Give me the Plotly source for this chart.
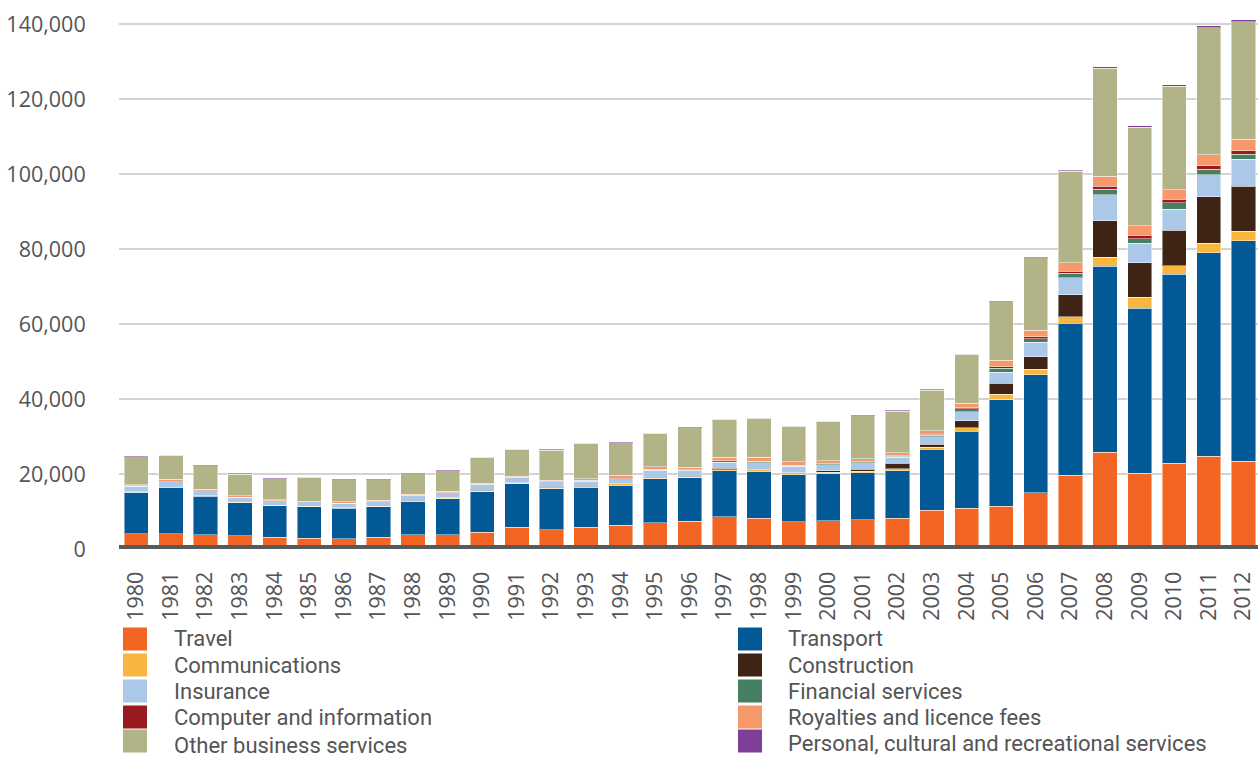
import plotly.graph_objects as go

# Services exports by category, 1980-2012
years = [str(y) for y in range(1980, 2013)]

travel = [4100, 4100, 3750, 3550, 3100, 2850, 2750, 3200, 3750, 3800, 4450,
          5850, 5150, 5800, 6400, 6950, 7450, 8550, 8250, 7300, 7550,
          7750, 8200, 10400, 10850, 11450, 15000, 19700, 25800, 20250, 22900,
          24750, 23350]
transport = [11000, 12250, 10300, 8800, 8450, 8450, 8100, 8100, 8950, 9600, 10850,
             11550, 10950, 10550, 10500, 11800, 11550, 12350, 12350, 12550, 12550,
             12600, 12700, 16200, 20600, 28300, 31450, 40550, 49600, 43900, 50350,
             54300, 58800]
communications = [100, 50, 100, 100, 100, 50, 100, 100, 100, 100, 150,
                  200, 150, 200, 450, 150, 200, 300, 550, 450, 350,
                  350, 550, 500, 900, 1500, 1450, 1700, 2400, 3000, 2350,
                  2550, 2650]
construction = [100, 0, 100, 0, 0, 0, 50, 0, 250, 200, 200,
                50, 250, 250, 0, 250, 250, 400, 0, 0, 450,
                600, 1400, 900, 1800, 2950, 3350, 5800, 9750, 9200, 9400,
                12350, 11900]
insurance = [1450, 1550, 1300, 1350, 1200, 1200, 1200, 1200, 1200, 1300, 1550,
             1350, 1500, 1250, 1400, 1850, 1550, 1600, 1850, 1750, 1600,
             1700, 1600, 1950, 2500, 3000, 3900, 4600, 6950, 5150, 5600,
             5900, 7300]
financial = [50, 50, 50, 50, 50, 50, 50, 50, 50, 50, 50,
             100, 100, 250, 50, 250, 200, 350, 350, 250, 250,
             250, 350, 350, 700, 1000, 900, 1150, 1500, 1300, 1800,
             1400, 1300]
computer = [50, 50, 50, 0, 0, 0, 0, 0, 0, 0, 50,
            50, 50, 50, 50, 50, 50, 50, 50, 50, 50,
            50, 50, 250, 350, 450, 550, 550, 750, 850, 850,
            950, 950]
royalties = [350, 550, 300, 350, 300, 150, 300, 300, 250, 300, 250,
             300, 250, 450, 850, 600, 600, 850, 1050, 900, 800,
             800, 850, 1050, 1150, 1700, 1800, 2300, 2600, 2550, 2600,
             2900, 3000]
other_business = [7400, 6400, 6200, 5800, 5600, 6400, 5950, 5500, 5500, 5550, 6950,
                  7200, 8000, 9400, 8700, 9000, 10550, 10150, 10400, 9500, 10500,
                  11450, 11100, 10750, 13050, 15650, 19300, 24450, 28800, 26250, 27550,
                  33950, 31300]
personal = [150, 150, 150, 150, 150, 150, 150, 150, 150, 150, 150,
            150, 150, 150, 150, 150, 150, 150, 150, 150, 150,
            150, 200, 200, 200, 200, 200, 250, 500, 450, 450,
            550, 550]

y_ticks = [0, 20000, 40000, 60000, 80000, 100000, 120000, 140000]
y_tick_text = ["0", "20,000", "40,000", "60,000", "80,000", "100,000", "120,000", "140,000"]

# stacking order, bottom to top
series = [
    ("Travel", travel, "#F26522"),
    ("Transport", transport, "#035996"),
    ("Communications", communications, "#F7B73F"),
    ("Construction", construction, "#3D2415"),
    ("Insurance", insurance, "#ABC8E8"),
    ("Financial services", financial, "#467F62"),
    ("Computer and information", computer, "#9A1B1F"),
    ("Royalties and licence fees", royalties, "#F6986A"),
    ("Other business services", other_business, "#B2B387"),
    ("Personal, cultural and recreational services", personal, "#7F3E98"),
]

# legend layout: two columns, five rows each
legend_left = ["Travel", "Communications", "Insurance", "Computer and information",
               "Other business services"]
legend_right = ["Transport", "Construction", "Financial services",
                "Royalties and licence fees",
                "Personal, cultural and recreational services"]

W, H = 1258, 758
L, T, B = 119, 16, 549          # plot area edges in pixels
PW, PH = W - L, B - T
Y_MAX = 142133

TEXT = "#545456"
FONT = "Open Sans"
LEGEND_FONT = "Roboto"

fig = go.Figure()
for name, vals, color in series:
    fig.add_trace(go.Bar(
        x=years, y=vals, name=name, marker_color=color,
        marker_line_color="rgba(255,255,255,0.45)", marker_line_width=1,
        showlegend=False,
    ))


def px_x(px):
    return (px - L) / PW


def px_y(py):
    return (B - py) / PH


shapes = [dict(type="line", xref="paper", yref="y", x0=0, x1=1, y0=0, y1=0,
               line=dict(color="#58595B", width=8), layer="above")]
annotations = []
colors = {n: c for n, _, c in series}
row_y_left = [639, 665, 691, 717, 745]
row_y_right = [639, 665, 691, 717, 743]
for names, rows, sx, tx in ((legend_left, row_y_left, 123, 173),
                            (legend_right, row_y_right, 738, 787)):
    for name, cy in zip(names, rows):
        sy = min(cy, 741)
        shapes.append(dict(type="rect", xref="paper", yref="paper",
                           x0=px_x(sx), x1=px_x(sx + 24),
                           y0=px_y(sy - 11.5), y1=px_y(sy + 11.5),
                           fillcolor=colors[name], line=dict(width=0)))
        annotations.append(dict(xref="paper", yref="paper", x=px_x(tx), y=px_y(cy),
                                xanchor="left", yanchor="middle", showarrow=False,
                                borderpad=0,
                                text=name, font=dict(family=LEGEND_FONT, size=22, color=TEXT)))

fig.update_layout(
    width=W, height=H,
    margin=dict(l=L, r=0, t=T, b=H - B, pad=0),
    barmode="stack", bargap=0.3,
    plot_bgcolor="white", paper_bgcolor="white",
    font=dict(family=FONT, size=21, color=TEXT),
    shapes=shapes, annotations=annotations,
    xaxis=dict(type="category", range=[-0.5, 32.42], tickangle=-90,
               ticks="outside", ticklen=13, tickcolor="rgba(0,0,0,0)",
               showgrid=False, showline=False, zeroline=False,
               tickfont=dict(family=FONT, size=21.5, color=TEXT)),
    yaxis=dict(range=[0, Y_MAX], tickvals=y_ticks, ticktext=y_tick_text,
               ticks="outside", ticklen=28, tickcolor="rgba(0,0,0,0)",
               showgrid=True, gridcolor="#D3D3D3", gridwidth=2,
               zeroline=False, showline=False,
               tickfont=dict(family=FONT, size=21.5, color=TEXT)),
)

fig.write_html("out.html")
